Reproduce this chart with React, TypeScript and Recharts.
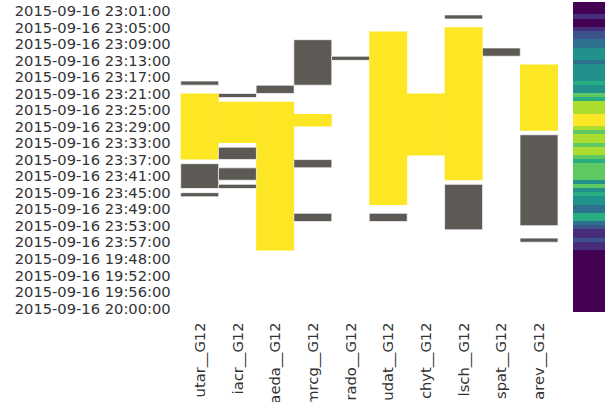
import { BarChart, Bar, XAxis, YAxis, Cell } from "recharts"

type Run = [number, number, "y" | "g"]

const columns = [
  "utar__G12",
  "iacr__G12",
  "aeda__G12",
  "mrcg__G12",
  "rado__G12",
  "udat__G12",
  "chyt__G12",
  "lsch__G12",
  "spat__G12",
  "arev__G12",
]

// [firstRow, endRow (exclusive), kind]  y = filled, g = flagged
const utar: Run[] = [[19, 20, "g"], [22, 38, "y"], [39, 45, "g"], [46, 47, "g"]]
const iacr: Run[] = [[22, 23, "g"], [24, 34, "y"], [35, 38, "g"], [40, 43, "g"], [44, 45, "g"]]
const aeda: Run[] = [[20, 22, "g"], [24, 60, "y"]]
const mrcg: Run[] = [[9, 20, "g"], [27, 30, "y"], [38, 40, "g"], [51, 53, "g"]]
const rado: Run[] = [[13, 14, "g"]]
const udat: Run[] = [[7, 49, "y"], [51, 53, "g"]]
const chyt: Run[] = [[22, 37, "y"]]
const lsch: Run[] = [[3, 4, "g"], [6, 43, "y"], [44, 55, "g"]]
const spat: Run[] = [[11, 13, "g"]]
const arev: Run[] = [[15, 31, "y"], [32, 54, "g"], [57, 58, "g"]]

const runsByColumn = [utar, iacr, aeda, mrcg, rado, udat, chyt, lsch, spat, arev]

const rowTotal = 75

const tickLabels = [
  "2015-09-16 23:01:00",
  "2015-09-16 23:05:00",
  "2015-09-16 23:09:00",
  "2015-09-16 23:13:00",
  "2015-09-16 23:17:00",
  "2015-09-16 23:21:00",
  "2015-09-16 23:25:00",
  "2015-09-16 23:29:00",
  "2015-09-16 23:33:00",
  "2015-09-16 23:37:00",
  "2015-09-16 23:41:00",
  "2015-09-16 23:45:00",
  "2015-09-16 23:49:00",
  "2015-09-16 23:53:00",
  "2015-09-16 23:57:00",
  "2015-09-16 19:48:00",
  "2015-09-16 19:52:00",
  "2015-09-16 19:56:00",
  "2015-09-16 20:00:00",
]

// per-row count shown in the strip on the right
const rowCounts = [
  0, 0, 0, 1, 0, 0, 1, 2, 2, 3,
  3, 4, 4, 4, 3, 4, 4, 4, 4, 5,
  4, 4, 6, 5, 7, 7, 7, 8, 8, 8,
  7, 6, 7, 7, 6, 7, 7, 6, 5, 6,
  6, 6, 6, 4, 6, 4, 5, 4, 4, 3,
  3, 5, 5, 3, 2, 1, 1, 2, 1, 1,
  0, 0, 0, 0, 0, 0, 0, 0, 0, 0,
  0, 0, 0, 0, 0,
]

const YELLOW = "#fde725"
const GRAY = "#5d5955"
const viridis = ["#440154", "#472d7b", "#3b528b", "#2c728e", "#21918c", "#28ae80", "#5ec962", "#addc30", "#fde725"]
const FONT = "DejaVu Sans"

type Seg = { len: number; kind: "y" | "g" | null }

const segmentsPerColumn: Seg[][] = runsByColumn.map((runs) => {
  const segs: Seg[] = []
  let pos = 0
  for (const [s, e, k] of runs) {
    if (s > pos) segs.push({ len: s - pos, kind: null })
    segs.push({ len: e - s, kind: k })
    pos = e
  }
  return segs
})

const segCount = Math.max(...segmentsPerColumn.map((s) => s.length))

const matrixData = columns.map((name, i) => {
  const row: Record<string, string | number> = { name }
  for (let k = 0; k < segCount; k++) {
    row[`s${k}`] = segmentsPerColumn[i][k] ? segmentsPerColumn[i][k].len : 0
  }
  return row
})

// one stacked bar, one unit per row
const stripData = [
  rowCounts.reduce((acc: Record<string, number | string>, _, i) => {
    acc[`r${i}`] = 1
    return acc
  }, { name: "strip" }),
]

const yTicks = tickLabels.map((_, i) => 2 + i * 4)

const ColumnTick = ({ x, y, payload }: any) => (
  <text
    transform={`translate(${x},${y}) rotate(-90)`}
    textAnchor="end"
    dy="0.36em"
    fontFamily={FONT}
    fontSize={14.7}
    fill="#333"
  >
    {payload.value}
  </text>
)

export default function App() {
  return (
    <div style={{ position: "absolute", left: 0, top: 0, width: 613, height: 402, background: "#fff" }}>
      <style>{`.strip path, .strip rect { shape-rendering: crispEdges; }`}</style>
      <BarChart
        width={613}
        height={402}
        data={matrixData}
        margin={{ top: 2.5, right: 55.3, left: 0, bottom: 0 }}
        barCategoryGap={0}
        barGap={0}
      >
        <XAxis
          dataKey="name"
          interval={0}
          axisLine={false}
          tickLine={false}
          tickSize={0}
          tickMargin={10}
          height={89.5}
          tick={<ColumnTick />}
        />
        <YAxis
          type="number"
          domain={[0, rowTotal]}
          reversed
          allowDataOverflow
          ticks={yTicks}
          interval={0}
          width={180.7}
          axisLine={false}
          tickLine={false}
          tickSize={0}
          tickMargin={10}
          tickFormatter={(v: number) => tickLabels[Math.round((v - 2) / 4)]}
          tick={{ fontFamily: FONT, fontSize: 14.7, fill: "#333" }}
        />
        {Array.from({ length: segCount }, (_, k) => (
          <Bar key={k} dataKey={`s${k}`} stackId="m" isAnimationActive={false}>
            {columns.map((c, i) => {
              const seg = segmentsPerColumn[i][k]
              const kind = seg ? seg.kind : null
              if (kind === "y") return <Cell key={c} fill={YELLOW} />
              if (kind === "g") return <Cell key={c} fill={GRAY} stroke="#ffffff" strokeOpacity={0.7} strokeWidth={1} />
              return <Cell key={c} fill="none" />
            })}
          </Bar>
        ))}
      </BarChart>
      <div className="strip" style={{ position: "absolute", left: 573.3, top: 1.7 }}>
        <BarChart
          width={31.7}
          height={310}
          data={stripData}
          margin={{ top: 0, right: 0, left: 0, bottom: 0 }}
          barCategoryGap={0}
          barGap={0}
        >
          <XAxis dataKey="name" hide />
          <YAxis type="number" domain={[0, rowTotal]} reversed allowDataOverflow hide />
          {rowCounts.map((count, i) => (
            <Bar key={i} dataKey={`r${i}`} stackId="s" fill={viridis[count]} isAnimationActive={false} />
          ))}
        </BarChart>
      </div>
    </div>
  )
}
